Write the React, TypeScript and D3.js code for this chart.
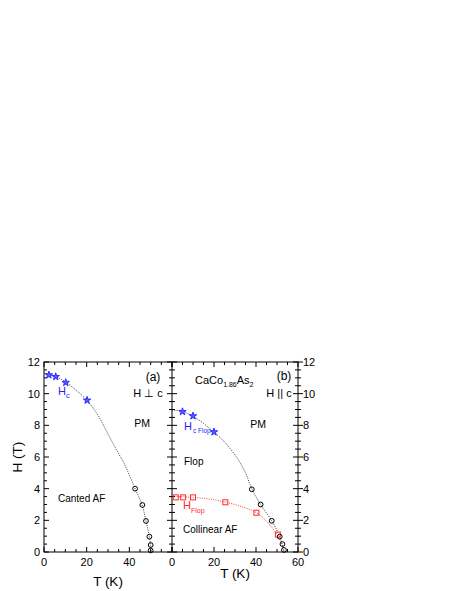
import React from "react";
import * as d3 from "d3";

// ---- Data ----
// Panel (a) H ⊥ c
const aHcT = [2.3, 5.5, 10.2, 20.2];
const aHcH = [11.18, 11.07, 10.7, 9.58];
const aCircT = [42.7, 46.1, 47.8, 49.4, 50.0, 50.0];
const aCircH = [4.0, 2.97, 1.96, 0.97, 0.44, 0.1];
const aFitT = [0, 5, 10, 15, 20, 25, 30, 35, 37.2, 40, 42.7, 46, 47.8, 49.4, 50.0, 50.2];
const aFitH = [11.27, 11.1, 10.75, 10.22, 9.6, 8.7, 7.45, 6.2, 5.7, 4.85, 4.0, 2.97, 1.96, 0.97, 0.4, 0.0];

// Panel (b) H || c
const bHcT = [5.0, 10.0, 20.0];
const bHcH = [8.86, 8.59, 7.58];
const bCircT = [38.0, 42.2, 47.5, 51.3, 52.6, 53.3];
const bCircH = [3.96, 3.0, 1.97, 0.97, 0.5, 0.13];
const bFlopT = [1.8, 5.3, 10.0, 25.4, 40.2, 50.4];
const bFlopH = [3.45, 3.45, 3.45, 3.14, 2.48, 1.1];
const bFitT = [0, 5, 10, 15, 20, 24.3, 30.7, 35, 38, 42.2, 47.5, 51.3, 52.6, 53.4];
const bFitH = [8.97, 8.87, 8.57, 8.12, 7.56, 7.05, 6.0, 5.0, 4.0, 3.0, 1.97, 0.97, 0.45, 0.0];
const rFitT = [0, 5, 10, 15, 20, 25, 30, 35, 40, 45, 50, 52, 53.3];
const rFitH = [3.5, 3.49, 3.45, 3.39, 3.3, 3.16, 3.0, 2.78, 2.5, 1.95, 1.1, 0.6, 0.0];

const xTickMajor = [0, 20, 40, 60];
const yTickMajor = [0, 2, 4, 6, 8, 10, 12];

const FONT = "Liberation Sans, Arial, sans-serif";
const BLUE = "#1f1fff";
const RED = "#ff2a2a";

export default function App() {
  const top = 362, bottom = 552;
  const xa = d3.scaleLinear().domain([0, 60]).range([44, 172]);
  const xb = d3.scaleLinear().domain([0, 60]).range([172, 298]);
  const y = d3.scaleLinear().domain([0, 12]).range([bottom, top]);

  const lineFor = (xs: d3.ScaleLinear<number, number>, T: number[], H: number[]) =>
    d3
      .line<number>()
      .x((_, i) => xs(T[i]))
      .y((_, i) => y(H[i]))
      .curve(d3.curveCatmullRom.alpha(0.5))(T) || "";

  const star = d3.symbol().type(d3.symbolStar).size(17)() || "";

  const minorX = d3.range(0, 61, 5);
  const minorY = d3.range(0, 12.01, 0.5);

  const xTicks = (xs: d3.ScaleLinear<number, number>, key: string) => (
    <g key={key}>
      {minorX.map((t) => {
        const major = t % 20 === 0;
        const L = major ? 5 : 3;
        return (
          <g key={t}>
            <line x1={xs(t)} x2={xs(t)} y1={bottom} y2={bottom - L} stroke="#000" strokeWidth={1} />
            <line x1={xs(t)} x2={xs(t)} y1={top} y2={top + L} stroke="#000" strokeWidth={1} />
          </g>
        );
      })}
    </g>
  );

  const yTicks = (x0: number, left: boolean, right: boolean, key: string) => (
    <g key={key}>
      {minorY.map((h) => {
        const major = Math.abs(h % 2) < 1e-6;
        const L = major ? 5 : 3;
        return (
          <line
            key={h}
            x1={left ? x0 - L : x0}
            x2={right ? x0 + L : x0}
            y1={y(h)}
            y2={y(h)}
            stroke="#000"
            strokeWidth={1}
          />
        );
      })}
    </g>
  );

  const dotted = { fill: "none", strokeWidth: 0.9, strokeDasharray: "1 1.3" };

  return (
    <svg
      width={457}
      height={591}
      style={{ position: "absolute", left: 0, top: 0, background: "#fff" }}
      fontFamily={FONT}
    >
      {/* fit lines */}
      <path d={lineFor(xa, aFitT, aFitH)} stroke="#222" {...dotted} />
      <path d={lineFor(xb, bFitT, bFitH)} stroke="#222" {...dotted} />
      <path d={lineFor(xb, rFitT, rFitH)} stroke={RED} {...dotted} />

      {/* frame */}
      <rect x={44} y={top} width={254} height={bottom - top} fill="none" stroke="#000" strokeWidth={1} />
      <line x1={172} x2={172} y1={top} y2={bottom} stroke="#000" strokeWidth={1} />

      {xTicks(xa, "xa")}
      {xTicks(xb, "xb")}
      {yTicks(44, false, true, "yl")}
      {yTicks(172, true, true, "ym")}
      {yTicks(298, true, true, "yr")}

      {/* tick labels */}
      <g fontSize={11} fill="#000">
        {yTickMajor.map((h) => (
          <text key={"l" + h} x={40} y={y(h) + 4} textAnchor="end">
            {h}
          </text>
        ))}
        {yTickMajor.map((h) => (
          <text key={"r" + h} x={303} y={y(h) + 4} textAnchor="start">
            {h}
          </text>
        ))}
        {xTickMajor.filter((t) => t < 60).map((t) => (
          <text key={"xa" + t} x={xa(t)} y={566} textAnchor="middle">
            {t}
          </text>
        ))}
        {xTickMajor.map((t) => (
          <text key={"xb" + t} x={xb(t)} y={566} textAnchor="middle">
            {t}
          </text>
        ))}
      </g>

      {/* axis titles */}
      <text x={108} y={586} fontSize={13.5} textAnchor="middle">T (K)</text>
      <text x={235} y={578} fontSize={13.5} textAnchor="middle">T (K)</text>
      <text transform="translate(22,457) rotate(-90)" fontSize={13.5} textAnchor="middle">H (T)</text>

      {/* markers panel a */}
      {aHcT.map((t, i) => (
        <path key={"as" + i} d={star} transform={`translate(${xa(t)},${y(aHcH[i])})`} fill="#5a5aff" stroke={BLUE} strokeWidth={0.9} />
      ))}
      {aCircT.map((t, i) => (
        <circle key={"ac" + i} cx={xa(t)} cy={y(aCircH[i])} r={2.4} fill="none" stroke="#000" strokeWidth={1} />
      ))}

      {/* markers panel b */}
      {bHcT.map((t, i) => (
        <path key={"bs" + i} d={star} transform={`translate(${xb(t)},${y(bHcH[i])})`} fill="#5a5aff" stroke={BLUE} strokeWidth={0.9} />
      ))}
      {bFlopT.map((t, i) => (
        <rect key={"bq" + i} x={xb(t) - 2.5} y={y(bFlopH[i]) - 2.5} width={5} height={5} fill="none" stroke={RED} strokeWidth={1} />
      ))}
      {bCircT.map((t, i) => (
        <circle key={"bc" + i} cx={xb(t)} cy={y(bCircH[i])} r={2.4} fill="none" stroke="#000" strokeWidth={1} />
      ))}

      {/* annotations panel a */}
      <text x={153} y={381} fontSize={12} textAnchor="middle">(a)</text>
      <text x={148} y={397} fontSize={11} textAnchor="middle">H ⊥ c</text>
      <text x={58} y={395} fontSize={11} fill={BLUE}>
        H<tspan fontSize={7.5} dy={3}>c</tspan>
      </text>
      <text x={142} y={427} fontSize={10.5} textAnchor="middle">PM</text>
      <text x={58} y={502} fontSize={10}>Canted AF</text>

      {/* annotations panel b */}
      <text x={284} y={380} fontSize={12} textAnchor="middle">(b)</text>
      <text x={279} y={397} fontSize={11} textAnchor="middle">H || c</text>
      <text x={195} y={384} fontSize={11}>
        CaCo<tspan fontSize={7} dy={3}>1.86</tspan>
        <tspan dy={-3}>As</tspan>
        <tspan fontSize={7} dy={3}>2</tspan>
      </text>
      <text x={184} y={430} fontSize={11} fill={BLUE}>
        H<tspan fontSize={6.5} dx={1} dy={3}>c Flop</tspan>
      </text>
      <text x={258} y={428} fontSize={10.5} textAnchor="middle">PM</text>
      <text x={184} y={465} fontSize={10}>Flop</text>
      <text x={183} y={509} fontSize={11} fill={RED}>
        H<tspan fontSize={7} dy={4}>Flop</tspan>
      </text>
      <text x={183} y={533} fontSize={10}>Collinear AF</text>
    </svg>
  );
}
